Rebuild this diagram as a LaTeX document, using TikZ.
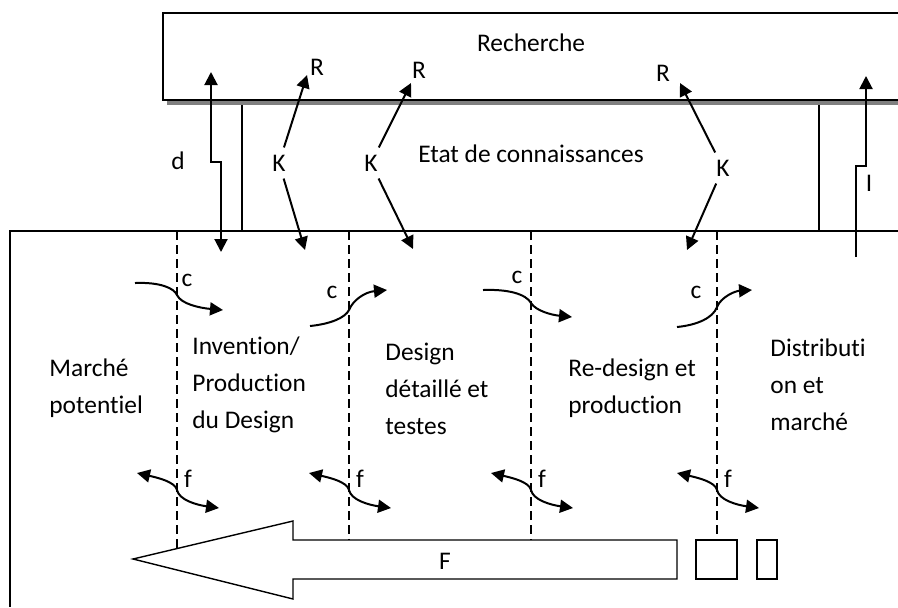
\documentclass[tikz,border=0pt]{standalone}
\usepackage{fontspec}
\setmainfont{Carlito}[Ligatures=NoCommon]
\usepackage{tikz}
\usetikzlibrary{arrows.meta}
\definecolor{shadowgray}{HTML}{808080}

\begin{document}
\begin{tikzpicture}[x=0.5pt, y=-0.5pt,
  font=\fontsize{12.7}{18.5}\selectfont,
  lbl/.style={inner sep=0pt},
  stage/.style={inner sep=0pt, align=left, anchor=west},
  link/.style={line width=1pt, -{Triangle[length=6.5pt,width=6.5pt]}},
  twoway/.style={line width=1pt, {Triangle[length=6.5pt,width=6.5pt]}-{Triangle[length=6.5pt,width=6.5pt]}},
  divider/.style={line width=0.6pt, dash pattern=on 4.5pt off 2.5pt}]
  \useasboundingbox (0,0) rectangle (898,607);

  % Research block with its shadow
  \fill[shadowgray] (167,100) rectangle (898,105);
  \draw[line width=0.8pt] (898,13) -- (163,13) -- (163,100) -- (898,100);
  \node[lbl] (rech) at (531,43) {Recherche};

  % State of knowledge
  \draw[line width=0.7pt] (242,105) -- (242,231);
  \draw[line width=0.7pt] (819,105) -- (819,231);
  \node[lbl] (etat) at (531,154) {Etat de connaissances};

  % Firm block
  \draw[line width=0.8pt] (898,231) -- (10,231) -- (10,607);

  % Stage dividers and feedback links f
  \foreach \x in {177,349,531,717} {
    \draw[divider] (\x,231) -- (\x,560);
    \draw[twoway] (\x-40,473) .. controls (\x-18,478) and (\x-2,482) .. (\x,490)
      .. controls (\x+2,500) and (\x+20,505) .. (\x+42,508);
    \node[lbl] (f\x) at (\x+11,479) {f};
  }

  % Feedback arrow F
  \draw[line width=0.7pt, fill=white] (133,559) -- (293,521) -- (293,540) -- (677,540)
    -- (677,579) -- (293,579) -- (293,599) -- cycle;
  \node[lbl] (F) at (445,561) {F};
  \draw[line width=0.7pt, fill=white] (696,540) rectangle (737,579);
  \draw[line width=0.7pt, fill=white] (757,540) rectangle (777,579);

  % Stages of the chain
  \node[stage] (marche) at (49,388) {Marché\\potentiel};
  \node[stage] (invention) at (192,385) {Invention/\\Production\\du Design};
  \node[stage] (design) at (385,389) {Design\\détaillé et\\testes};
  \node[stage] (redesign) at (568,388) {Re-design et\\production};
  \node[stage] (distrib) at (770,385) {Distributi\\on et\\marché};

  % Central chain c
  \node[lbl] (c1) at (187,280) {c};
  \node[lbl] (c2) at (332,292) {c};
  \node[lbl] (c3) at (517,277) {c};
  \node[lbl] (c4) at (696,292) {c};
  \draw[link] (135,283) .. controls (160,282) and (174,288) .. (177,295)
    .. controls (181,304) and (200,308) .. (223,310);
  \draw[link] (310,326) .. controls (330,324) and (345,318) .. (349,310)
    .. controls (353,300) and (365,292) .. (387,290);
  \draw[link] (483,290) .. controls (508,289) and (526,294) .. (531,303)
    .. controls (536,311) and (552,315) .. (572,317);
  \draw[link] (677,327) .. controls (697,325) and (713,318) .. (717,307)
    .. controls (721,297) and (735,291) .. (752,290);

  % Link d between research and invention
  \coordinate (dtop) at (211,72);
  \coordinate (dbot) at (221,252);
  \draw[twoway] (dtop) -- ++(0,90) -- ++(10,0) -- (dbot);
  \node[lbl] (d) at (178,161) {d};

  % Link I from the market back to research
  \coordinate (ibot) at (856,257);
  \coordinate (itop) at (866,76);
  \draw[link] (ibot) -- ++(0,-91) -- ++(10,0) -- (itop);
  \node[lbl] (I) at (869,183) {I};

  % Knowledge K and research R
  \foreach \n/\kx/\ky/\rx/\ry/\ux/\uy/\dx/\dy in
      {1/279/163/317/67/307/75/305/250,
       2/371/163/419/70/411/83/413/249,
       3/723/168/663/73/680/83/687/250} {
    \node[lbl] (R\n) at (\rx,\ry) {R};
    \node[inner sep=3.5pt] (K\n) at (\kx,\ky) {K};
    \coordinate (up\n) at (\ux,\uy);
    \coordinate (down\n) at (\dx,\dy);
    \draw[link] (K\n) -- (up\n);
    \draw[link] (K\n) -- (down\n);
  }
\end{tikzpicture}
\end{document}
